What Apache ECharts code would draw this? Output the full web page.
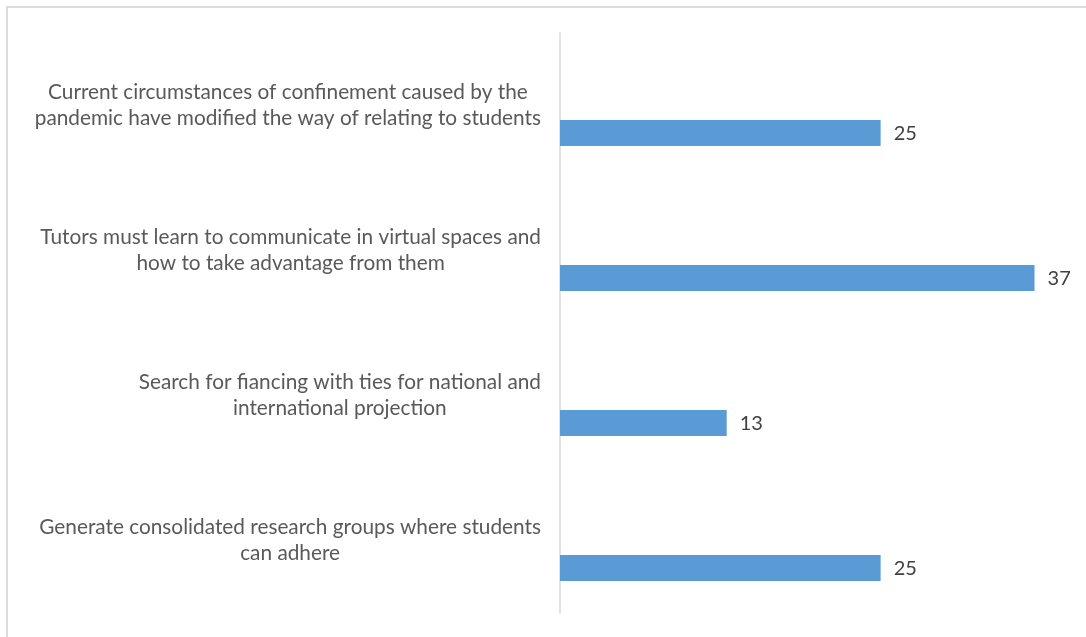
<!DOCTYPE html>
<html>
<head>
<meta charset="utf-8">
<script src="https://cdn.jsdelivr.net/npm/echarts@6/dist/echarts.min.js"></script>
<style>
html,body{margin:0;padding:0;background:#fff;}
#frame{position:absolute;left:6px;top:6px;width:1080px;height:631px;border-top:2px solid #dcdcdc;border-left:2px solid #dcdcdc;box-sizing:border-box;}
#chart{position:absolute;left:0;top:0;width:1086px;height:637px;}
</style>
</head>
<body>
<div id="frame"></div>
<div id="chart"></div>
<script>
const categories = [
  "Current circumstances of confinement caused by the\npandemic have modified the way of relating to students",
  "Tutors must learn to communicate in virtual spaces and\nhow to take advantage from them",
  "Search for fiancing with ties for national and\ninternational projection",
  "Generate consolidated research groups where students\ncan adhere"
];
const values = [25, 37, 13, 25];

const FONT = 'Lato';
const chart = echarts.init(document.getElementById('chart'), null, {renderer: 'canvas'});
chart.setOption({
  animation: false,
  backgroundColor: 'transparent',
  grid: {left: 560, right: 13, top: 33, bottom: 24, containLabel: false},
  xAxis: {type: 'value', min: 0, max: 40, show: false, splitLine: {show: false}},
  yAxis: {
    type: 'category',
    inverse: true,
    data: categories,
    axisLine: {show: true, lineStyle: {color: '#d9d9d9', width: 1.5}},
    axisTick: {show: false},
    axisLabel: {
      margin: 19,
      align: 'right',
      fontFamily: FONT,
      fontSize: 20.8,
      color: '#595959',
      lineHeight: 26,
      formatter: function (v) {
        return v.split('\n').map(function (l) { return '{c|' + l + '}'; }).join('\n');
      },
      rich: {c: {align: 'center', fontFamily: FONT, fontSize: 20.8, color: '#595959', lineHeight: 26}}
    }
  },
  series: [
    {
      type: 'bar', data: values.map(function(){return 0;}), barWidth: 26, barGap: '112%',
      itemStyle: {color: 'rgba(0,0,0,0)'}, silent: true, label: {show: false}
    },
    {
      type: 'bar', data: values, barWidth: 26,
      itemStyle: {color: '#5b9bd5'},
      label: {show: true, position: 'right', distance: 13, fontFamily: FONT, fontSize: 20, color: '#404040'}
    }
  ]
});
</script>
</body>
</html>
